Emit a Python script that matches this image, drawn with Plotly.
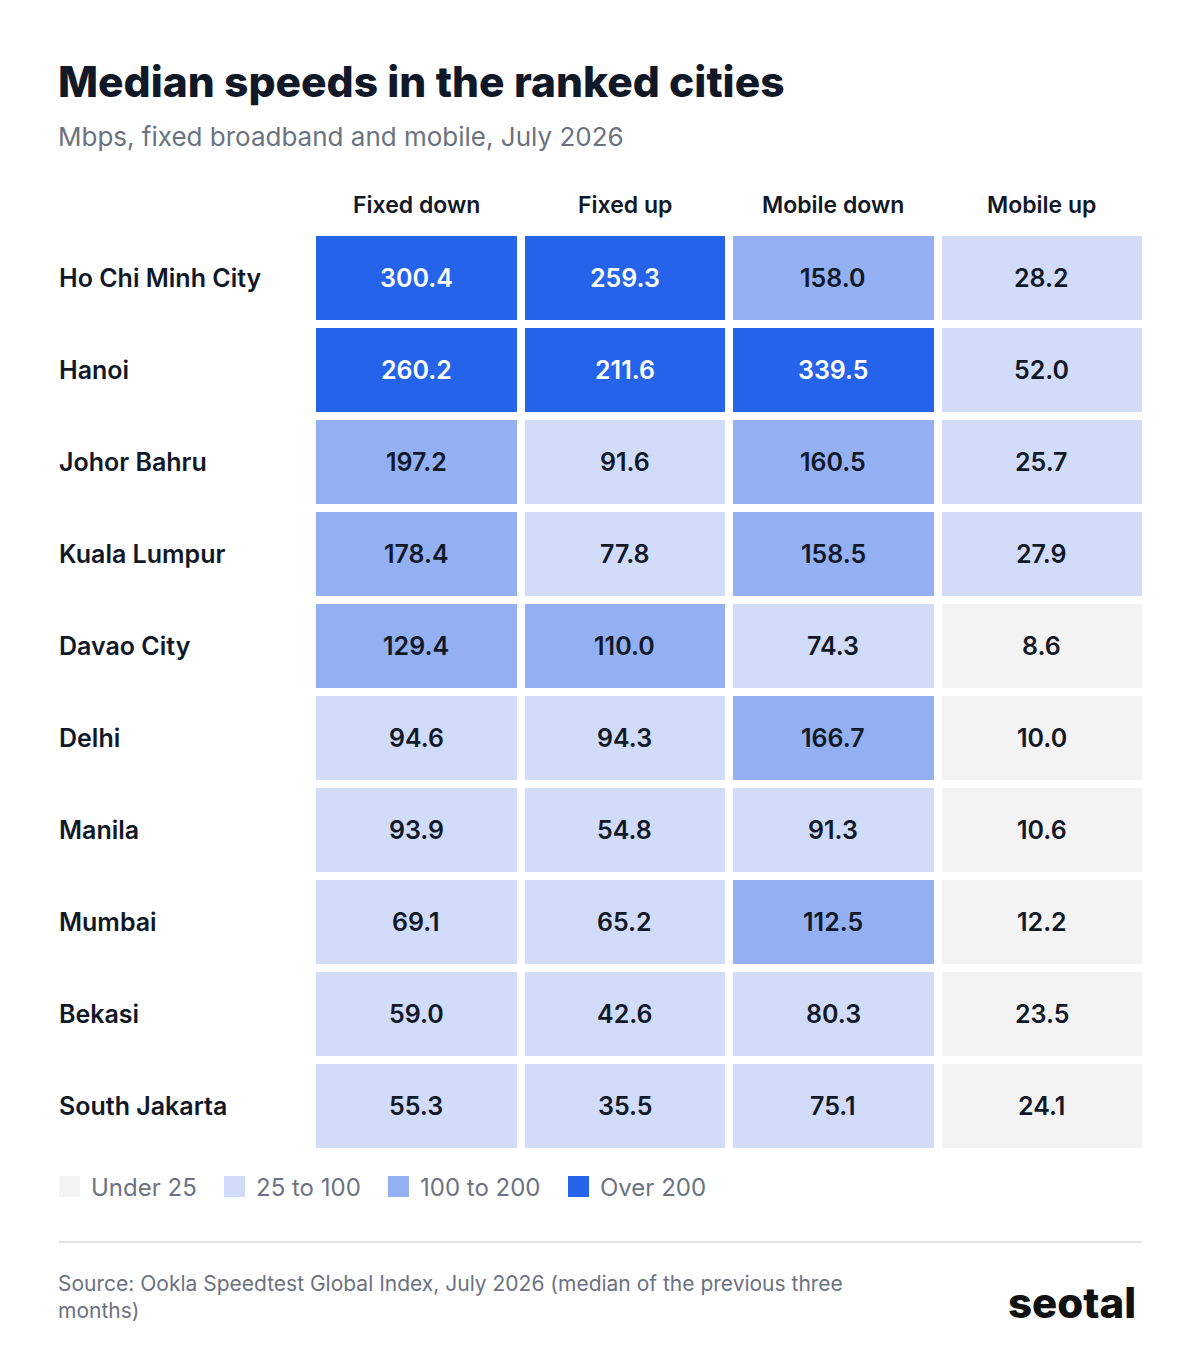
import plotly.graph_objects as go

cities = ["Ho Chi Minh City", "Hanoi", "Johor Bahru", "Kuala Lumpur", "Davao City",
          "Delhi", "Manila", "Mumbai", "Bekasi", "South Jakarta"]
columns = ["Fixed down", "Fixed up", "Mobile down", "Mobile up"]
fixed_down = [300.4, 260.2, 197.2, 178.4, 129.4, 94.6, 93.9, 69.1, 59.0, 55.3]
fixed_up = [259.3, 211.6, 91.6, 77.8, 110.0, 94.3, 54.8, 65.2, 42.6, 35.5]
mobile_down = [158.0, 339.5, 160.5, 158.5, 74.3, 166.7, 91.3, 112.5, 80.3, 75.1]
mobile_up = [28.2, 52.0, 25.7, 27.9, 8.6, 10.0, 10.6, 12.2, 23.5, 24.1]
bins = ["Under 25", "25 to 100", "100 to 200", "Over 200"]
bin_colors = ["#f3f3f3", "#d0dcf9", "#93b0f3", "#2563eb"]

series = [fixed_down, fixed_up, mobile_down, mobile_up]
W, H = 1200, 1368
FONT = "Inter, Noto Sans, sans-serif"
DARK = "#111827"
GREY = "#6b7280"


# page has an 8px body margin, so shift target pixel positions
def px(x):
    return (x - 8) / W


def py(y):
    return 1 - (y - 8) / H


def bucket(v):
    return 0 if v < 25 else 1 if v < 100 else 2 if v < 200 else 3


z = [[bucket(s[i]) for s in series] for i in range(len(cities))]
cs = []
for k, c in enumerate(bin_colors):
    cs += [[k / 4, c], [(k + 1) / 4, c]]

fig = go.Figure(go.Heatmap(
    z=z, x=columns, y=cities, zmin=0, zmax=4, colorscale=cs, showscale=False,
    xgap=8, ygap=8, hoverinfo="skip"))

ann = []
for i, city in enumerate(cities):
    for j, col in enumerate(columns):
        v = series[j][i]
        ann.append(dict(x=col, y=city, text=f"{v:.1f}", showarrow=False,
                        font=dict(size=25, weight=600,
                                  color="white" if bucket(v) == 3 else DARK)))
    ann.append(dict(x=px(57), xref="paper", y=city, yref="y", text=city,
                    xanchor="left", showarrow=False,
                    font=dict(size=25, weight=600, color=DARK)))
for col in columns:
    ann.append(dict(x=col, y=py(205), yref="paper", yanchor="middle", text=col,
                    showarrow=False, font=dict(size=23, weight=600, color=DARK)))


def txt(x, y, text, size, color, weight=400, xanchor="left"):
    return dict(x=px(x), y=py(y), xref="paper", yref="paper", xanchor=xanchor,
                yanchor="middle", align="left", text=text, showarrow=False,
                font=dict(size=size, color=color, weight=weight))


ann += [
    txt(56, 82, "Median speeds in the ranked cities", 42.5, DARK, 800),
    txt(56, 136, "Mbps, fixed broadband and mobile, July 2026", 26, GREY),
    txt(56, 1297, "Source: Ookla Speedtest Global Index, July 2026 (median of the previous three<br>months)",
        21, GREY),
    txt(1138, 1302, "seotal", 42, "#111111", 800, "right"),
]

shapes = [
    dict(type="line", xref="paper", yref="paper", x0=px(59), x1=px(1142),
         y0=py(1242), y1=py(1242), line=dict(color="#d9d9d9", width=1.5)),
]
lx = [59, 224, 388, 568]
for k, b in enumerate(bins):
    x0 = lx[k]
    shapes.append(dict(type="rect", xref="paper", yref="paper", x0=px(x0), x1=px(x0 + 21),
                       y0=py(1197), y1=py(1176), fillcolor=bin_colors[k],
                       line=dict(width=0)))
    ann.append(txt(x0 + 30, 1187, b, 24, GREY))

fig.update_layout(
    width=W, height=H, margin=dict(l=0, r=0, t=0, b=0),
    paper_bgcolor="white", plot_bgcolor="white", font=dict(family=FONT),
    xaxis=dict(domain=[px(312), px(1146)], visible=False),
    yaxis=dict(domain=[py(1152), py(232)], autorange="reversed", visible=False),
    annotations=ann, shapes=shapes,
)
fig.write_html("out.html")
